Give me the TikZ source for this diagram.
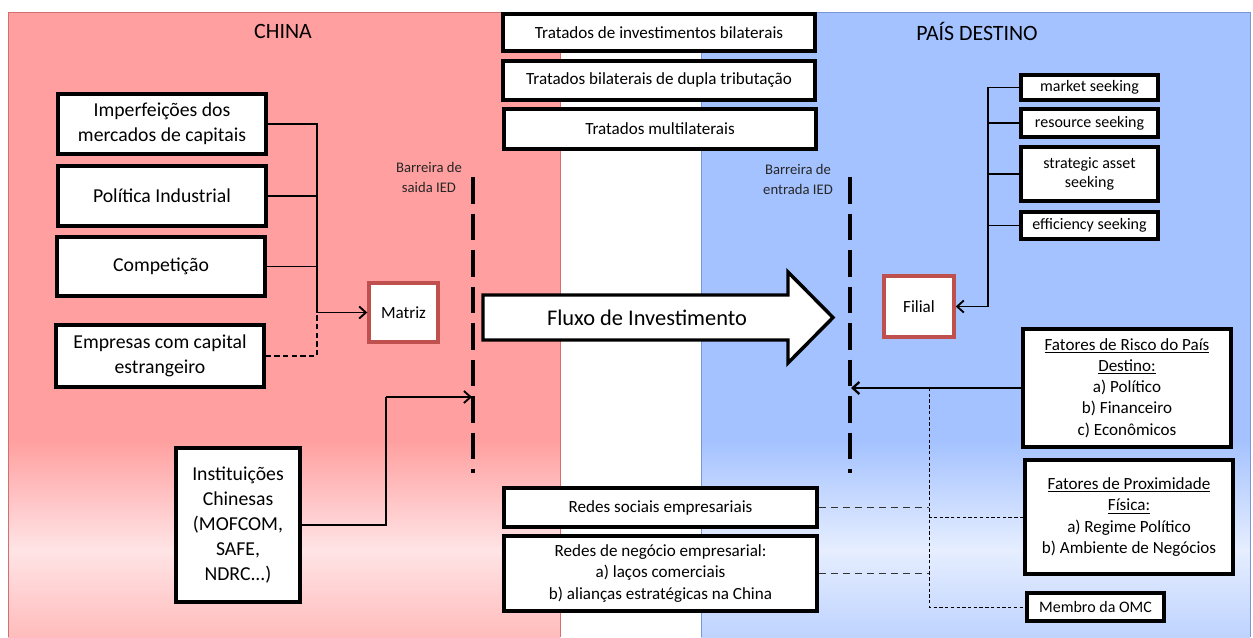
\documentclass[tikz,border=0pt]{standalone}
\usepackage{fontspec}
\setmainfont{Carlito}
\usetikzlibrary{arrows.meta}

\definecolor{chinafill}{RGB}{255,159,159}
\definecolor{chinalight}{RGB}{255,228,230}
\definecolor{chinabottom}{RGB}{255,188,188}
\definecolor{chinaedge}{RGB}{214,110,110}
\definecolor{destfill}{RGB}{164,194,255}
\definecolor{destlight}{RGB}{230,238,255}
\definecolor{destbottom}{RGB}{190,211,255}
\definecolor{destedge}{RGB}{120,150,210}
\definecolor{firmred}{RGB}{192,80,77}

\begin{document}
\begin{tikzpicture}[x=0.75pt,y=-0.75pt,
  box/.style={draw=black, line width=2.6pt, fill=white, inner sep=0pt, align=center, text=black},
  firmbox/.style={draw=firmred, line width=2.6pt, fill=white, inner sep=0pt, align=center},
  bigtxt/.style={font=\fontsize{14.8pt}{18.75pt}\selectfont},
  midtxt/.style={font=\fontsize{12.8pt}{15.9pt}\selectfont},
  smalltxt/.style={font=\fontsize{12pt}{14.25pt}\selectfont},
  title/.style={font=\fontsize{16.4pt}{19pt}\selectfont},
  barlabel/.style={font=\fontsize{11pt}{15pt}\selectfont, align=center, text=black!85},
  link/.style={line width=0.9pt},
  arr/.style={-{Straight Barb[length=5pt,width=9pt]}, line width=1.4pt},
  netlink/.style={draw=black!80, line width=0.8pt, dash pattern=on 5.5pt off 3.5pt},
  netspine/.style={line width=0.65pt, dash pattern=on 2.5pt off 1.8pt},
  barrier/.style={line width=2.6pt, dash pattern=on 19.9pt off 7.5pt},
]
\useasboundingbox (0,0) rectangle (1253,637);

% --- country panels ---
\fill[chinafill] (8,12) rectangle (560,637);
\shade[top color=chinafill, bottom color=chinalight] (8,440) rectangle (560,550);
\shade[top color=chinalight, bottom color=chinabottom] (8,550) rectangle (560,637);
\draw[chinaedge, line width=0.6pt] (8,637) -- (8,12) -- (560,12) -- (560,637);

\fill[destfill] (701,12) rectangle (1250,637);
\shade[top color=destfill, bottom color=destlight] (701,440) rectangle (1250,550);
\shade[top color=destlight, bottom color=destbottom] (701,550) rectangle (1250,637);
\draw[destedge, line width=0.6pt] (701,637) -- (701,12) -- (1250,12) -- (1250,637);

\node[title] (china) at (283,31) {CHINA};
\node[title] (destino) at (977,31) {PAÍS DESTINO};

% --- treaties ---
\node[box, midtxt, minimum width=234pt, minimum height=28pt] (trat1) at (659,32.5) {Tratados de investimentos bilaterais};
\node[box, midtxt, minimum width=234pt, minimum height=29.5pt] (trat2) at (659,80.5) {Tratados bilaterais de dupla tributação};
\node[box, midtxt, minimum width=234pt, minimum height=30pt] (trat3) at (660,129) {Tratados multilaterais};

% --- home-country drivers ---
\node[box, bigtxt, minimum width=156pt, minimum height=45pt] (imp) at (162,124) {Imperfeições dos\\mercados de capitais};
\node[box, bigtxt, minimum width=156pt, minimum height=45pt] (pol) at (162,196) {Política Industrial};
\node[box, bigtxt, minimum width=156pt, minimum height=44.5pt] (comp) at (161,266.5) {Competição};
\node[box, bigtxt, minimum width=156pt, minimum height=46.5pt] (emp) at (160,356) {Empresas com capital\\estrangeiro};
\node[box, bigtxt, minimum width=93pt, minimum height=115.5pt] (inst) at (238,525) {Instituições\\Chinesas\\(MOFCOM,\\SAFE,\\NDRC...)};

\node[firmbox, midtxt, minimum width=51.75pt, minimum height=44.25pt] (matriz) at (403.5,312.5) {Matriz};

% --- barriers ---
\node[barlabel] (barLtxt) at (429,177) {Barreira de\\saida IED};
\node[barlabel] (barRtxt) at (798,179) {Barreira de\\entrada IED};
\coordinate (barLtop) at (473,177);
\coordinate (barLbot) at (473,473);
\coordinate (barRtop) at (850,177);
\coordinate (barRbot) at (850,473);
\draw[barrier] (barLtop) -- (barLbot);
\draw[barrier] (barRtop) -- (barRbot);

% --- investment flow arrow ---
\draw[line width=2.6pt, fill=white, line join=miter]
  (483,295) -- (788,295) -- (788,272) -- (833,317.5) -- (788,363) -- (788,340) -- (483,340) -- cycle;
\node[font=\fontsize{16.8pt}{20pt}\selectfont] (fluxo) at (647,318) {Fluxo de Investimento};

% --- host-country side ---
\node[firmbox, midtxt, minimum width=52.5pt, minimum height=45.75pt] (filial) at (919,306.5) {Filial};

\node[box, smalltxt, minimum width=102.75pt, minimum height=18.75pt] (mkt) at (1089.5,87.5) {market seeking};
\node[box, smalltxt, minimum width=102.75pt, minimum height=21pt] (res) at (1089.5,123) {resource seeking};
\node[box, smalltxt, minimum width=102.75pt, minimum height=40.5pt] (strat) at (1089.5,174) {strategic asset\\seeking};
\node[box, smalltxt, minimum width=102.75pt, minimum height=20.25pt] (eff) at (1089.5,225.5) {efficiency seeking};

\node[box, midtxt, minimum width=156pt, minimum height=88.5pt] (risco) at (1127,388)
  {\underline{Fatores de Risco do País}\\\underline{Destino:}\\a) Político\\b) Financeiro\\c) Econômicos};
\node[box, midtxt, minimum width=156pt, minimum height=85.5pt] (prox) at (1129,517)
  {\underline{Fatores de Proximidade}\\\underline{Física:}\\a) Regime Político\\b) Ambiente de Negócios};
\node[box, smalltxt, minimum width=102.75pt, minimum height=21pt] (omc) at (1095.5,607) {Membro da OMC};

% --- business networks ---
\node[box, midtxt, minimum width=234.75pt, minimum height=29.25pt] (redes1) at (660.5,507.5) {Redes sociais empresariais};
\node[box, midtxt, minimum width=234.75pt, minimum height=56.25pt] (redes2) at (660.5,573.5)
  {Redes de negócio empresarial:\\a) laços comerciais\\b) alianças estratégicas na China};

% --- connectors, home side ---
\coordinate (lj) at (317,312.5);
\draw[link] (imp.east) -| (lj);
\draw[link] (pol.east) -- (pol.east -| lj);
\draw[link] (comp.east) -- (comp.east -| lj);
\draw[arr] (lj) -- (matriz.west);
\draw[link, dash pattern=on 4pt off 2.5pt] (emp.east) -| (lj);
\coordinate (instbend) at (386,397);
\coordinate (barLin) at (472,397);
\draw[link] (inst.east) -| (instbend);
\draw[arr] (instbend) -- (barLin);

% --- connectors, host side ---
\coordinate (rj) at (988,306.5);
\draw[link] (mkt.west) -| (rj);
\draw[link] (res.west) -- (res.west -| rj);
\draw[link] (strat.west) -- (strat.west -| rj);
\draw[link] (eff.west) -- (eff.west -| rj);
\draw[arr] (rj) -- (filial.east);

\coordinate (barRin) at (851,388);
\draw[arr, line width=1.7pt] (risco.west) -- (barRin);

\coordinate (ntop) at (929,388);
\coordinate (nbot) at (929,607);
\draw[netspine] (ntop) -- (nbot) -- (omc.west);
\draw[netspine] (prox.west) -- (prox.west -| ntop);
\draw[netlink] (redes1.east) -- (redes1.east -| ntop);
\draw[netlink] (redes2.east) -- (redes2.east -| ntop);
\end{tikzpicture}
\end{document}
